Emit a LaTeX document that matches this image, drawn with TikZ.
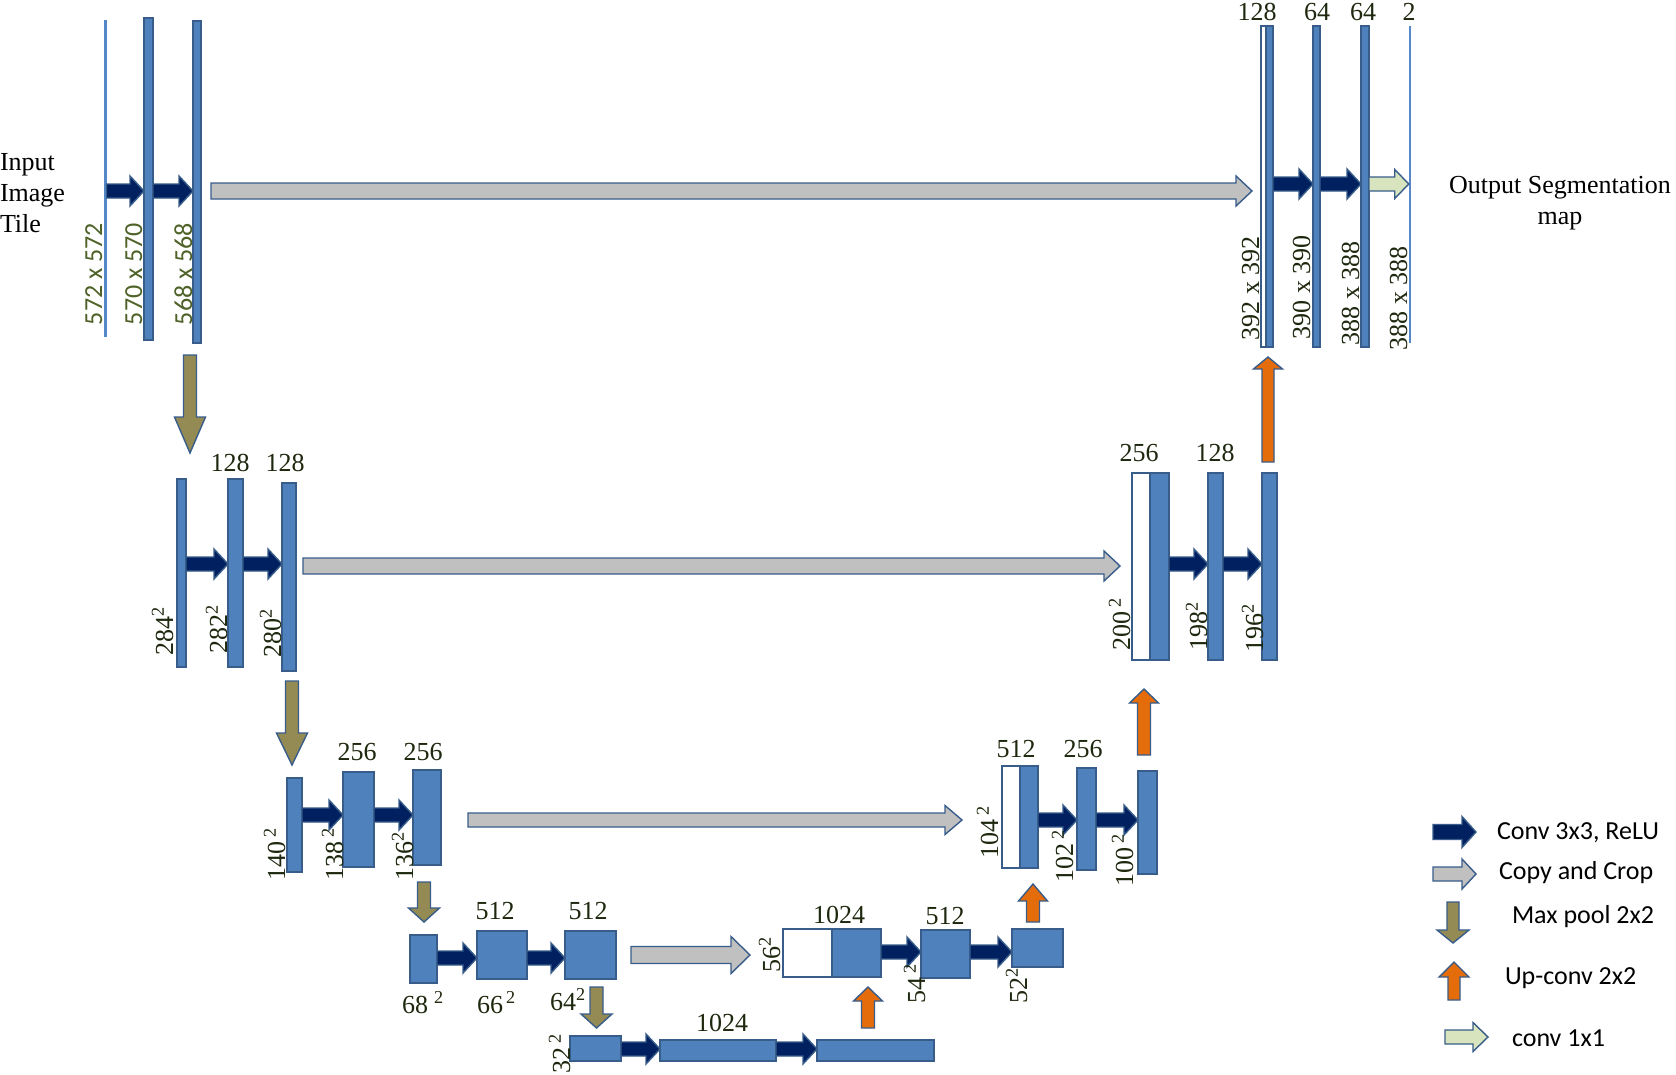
\documentclass[tikz,border=0pt]{standalone}
\usepackage{fontspec}
\setmainfont{Liberation Serif}
\newfontfamily\calfont{Carlito}
\usetikzlibrary{positioning,calc}

\definecolor{boxblue}{RGB}{79,129,189}
\definecolor{edgeblue}{RGB}{56,93,138}
\definecolor{hairblue}{RGB}{84,136,200}
\definecolor{convnavy}{RGB}{0,32,96}
\definecolor{copygray}{RGB}{192,192,192}
\definecolor{poololive}{RGB}{148,138,84}
\definecolor{uporange}{RGB}{228,108,10}
\definecolor{litegreen}{RGB}{215,228,189}
\definecolor{labelgreen}{RGB}{79,98,40}
\definecolor{labeldark}{RGB}{30,40,14}

\tikzset{
  arrshaft/.store in=\shw, arrhead/.store in=\hdw, arrlen/.store in=\hdl,
  arrshaft=7, arrhead=15, arrlen=14,
  fat/.style={draw=edgeblue, line width=1.4pt, line join=miter,
    to path={let \p1=(\tikztostart), \p2=(\tikztotarget),
      \n1={veclen(\x2-\x1,\y2-\y1)}, \n2={(\x2-\x1)/\n1}, \n3={(\y2-\y1)/\n1} in
      ({\x1-\n3*\shw},{\y1+\n2*\shw})
      -- ({\x2-\n2*\hdl-\n3*\shw},{\y2-\n3*\hdl+\n2*\shw})
      -- ({\x2-\n2*\hdl-\n3*\hdw},{\y2-\n3*\hdl+\n2*\hdw})
      -- (\p2)
      -- ({\x2-\n2*\hdl+\n3*\hdw},{\y2-\n3*\hdl-\n2*\hdw})
      -- ({\x2-\n2*\hdl+\n3*\shw},{\y2-\n3*\hdl-\n2*\shw})
      -- ({\x1+\n3*\shw},{\y1-\n2*\shw}) -- cycle}},
  conv/.style={fat, fill=convnavy},
  copycrop/.style={fat, fill=copygray, arrshaft=8, arrhead=15, arrlen=16},
  pool/.style={fat, fill=poololive, arrshaft=6.5, arrhead=15.5},
  upconv/.style={fat, fill=uporange, arrshaft=6.5, arrhead=14.5},
  onebyone/.style={fat, fill=litegreen, arrhead=14.5},
  blk/.style={rectangle, draw=edgeblue, fill=boxblue, line width=1.2pt},
  blkw/.style={blk, fill=white},
  hairblk/.style={rectangle, fill=hairblue},
  txt/.style={font=\fontsize{26}{31}\selectfont},
  chan/.style={txt, text=labeldark},
  dimlab/.style={txt, text=labeldark, rotate=90, anchor=base west},
  dimgreen/.style={font=\calfont\fontsize{26}{31}\selectfont, text=labelgreen, rotate=90, anchor=base west},
  legtext/.style={font=\calfont\fontsize{26}{31}\selectfont, anchor=west},
}

\begin{document}
\begin{tikzpicture}[x=1pt, y=-1pt, every node/.style={inner sep=0pt, outer sep=0pt}]
\useasboundingbox[fill=white] (0,0) rectangle (1676,1074);

% row levels for the horizontal arrows
\coordinate (r1) at (0,191);
\coordinate (r1d) at (0,184);
\coordinate (r2) at (0,564);
\coordinate (r2c) at (0,566);
\coordinate (r3) at (0,815);
\coordinate (r3d) at (0,820);
\coordinate (r4) at (0,958);
\coordinate (r4d) at (0,952);
\coordinate (r4c) at (0,955);
\coordinate (r5) at (0,1049);

% contracting path
\node[hairblk, minimum width=3, minimum height=317] (e11) at (105,178.5) {};
\node[blk, minimum width=9, minimum height=322] (e12) at (148.5,179) {};
\node[blk, minimum width=8, minimum height=322] (e13) at (197,182) {};

\node[blk, minimum width=9, minimum height=188] (e21) at (181.5,573) {};
\node[blk, minimum width=15, minimum height=188] (e22) at (235.5,573) {};
\node[blk, minimum width=14, minimum height=188] (e23) at (289,577) {};

\node[blk, minimum width=15, minimum height=94] (e31) at (294.5,825) {};
\node[blk, minimum width=31, minimum height=95] (e32) at (358.5,819.5) {};
\node[blk, minimum width=28, minimum height=95] (e33) at (427,817.5) {};

\node[blk, minimum width=27, minimum height=48] (e41) at (423.5,959) {};
\node[blk, minimum width=50, minimum height=48] (e42) at (502,955) {};
\node[blk, minimum width=51, minimum height=48] (e43) at (590.5,955) {};

% bottom
\node[blk, minimum width=51, minimum height=25] (b1) at (595.5,1048.5) {};
\node[blk, minimum width=116, minimum height=21] (b2) at (718,1050.5) {};
\node[blk, minimum width=117, minimum height=21] (b3) at (875.5,1050.5) {};

% expanding path
\node[blkw, minimum width=49, minimum height=48] (d41w) at (807.5,953) {};
\node[blk, minimum width=49, minimum height=48, right=0pt of d41w] (d41) {};
\node[blk, minimum width=49, minimum height=48] (d42) at (945.5,954) {};
\node[blk, minimum width=51, minimum height=38] (d43) at (1037.5,948) {};

\node[blkw, minimum width=18, minimum height=102] (d31w) at (1011,817) {};
\node[blk, minimum width=18, minimum height=102, right=0pt of d31w] (d31) {};
\node[blk, minimum width=19, minimum height=102] (d32) at (1086.5,819) {};
\node[blk, minimum width=19, minimum height=103] (d33) at (1147.5,822.5) {};

\node[blkw, minimum width=18, minimum height=187] (d21w) at (1141,566.5) {};
\node[blk, minimum width=19, minimum height=187, right=0pt of d21w] (d21) {};
\node[blk, minimum width=15, minimum height=187] (d22) at (1215.5,566.5) {};
\node[blk, minimum width=15, minimum height=187] (d23) at (1269.5,566.5) {};

\node[blkw, minimum width=5, minimum height=321] (d11w) at (1263.5,186.5) {};
\node[blk, minimum width=7, minimum height=321, right=0pt of d11w] (d11) {};
\node[blk, minimum width=7, minimum height=321] (d12) at (1316.5,186.5) {};
\node[blk, minimum width=8, minimum height=321] (d13) at (1365,186.5) {};
\node[hairblk, minimum width=2.5, minimum height=317] (d14) at (1410,184.5) {};

% conv 3x3
\draw[conv] (e11.east |- r1) to (e12.west |- r1);
\draw[conv] (e12.east |- r1) to (e13.west |- r1);
\draw[conv] (e21.east |- r2) to (e22.west |- r2);
\draw[conv] (e22.east |- r2) to (e23.west |- r2);
\draw[conv] (e31.east |- r3) to (e32.west |- r3);
\draw[conv] (e32.east |- r3) to (e33.west |- r3);
\draw[conv] (e41.east |- r4) to (e42.west |- r4);
\draw[conv] (e42.east |- r4) to (e43.west |- r4);
\draw[conv] (b1.east |- r5) to (b2.west |- r5);
\draw[conv] (b2.east |- r5) to (b3.west |- r5);
\draw[conv] (d41.east |- r4d) to (d42.west |- r4d);
\draw[conv] (d42.east |- r4d) to (d43.west |- r4d);
\draw[conv] (d31.east |- r3d) to (d32.west |- r3d);
\draw[conv] (d32.east |- r3d) to (d33.west |- r3d);
\draw[conv] (d21.east |- r2) to (d22.west |- r2);
\draw[conv] (d22.east |- r2) to (d23.west |- r2);
\draw[conv] (d11.east |- r1d) to (d12.west |- r1d);
\draw[conv] (d12.east |- r1d) to (d13.west |- r1d);
\draw[onebyone] (d13.east |- r1d) to (d14.west |- r1d);

% copy and crop
\draw[copycrop] ($(e13.east |- r1)+(10,0)$) to ($(d11w.west |- r1)+(-9,0)$);
\draw[copycrop] ($(e23.east |- r2c)+(7,0)$) to ($(d21w.west |- r2c)+(-12,0)$);
\draw[copycrop, arrshaft=7, arrhead=14.5, arrlen=17] ($(e33.east |- r3d)+(27,0)$) to ($(d31w.west |- r3d)+(-40,0)$);
\draw[copycrop, arrshaft=8.5, arrhead=18.5, arrlen=19] ($(e43.east |- r4c)+(15,0)$) to ($(d41w.west |- r4c)+(-33,0)$);

% max pool
\draw[pool, arrlen=36] ($(e13.south)+(-7,12)$) to ($(e21.north)+(8.5,-26)$);
\draw[pool, arrlen=32] ($(e23.south)+(3,10)$) to ($(e31.north)+(-2.5,-13)$);
\draw[pool] ($(e33.south)+(-3,17)$) to ($(e41.north)+(0.5,-13)$);
\draw[pool] ($(e43.south)+(6,8)$) to ($(b1.north)+(1,-8)$);

% up-conv
\draw[upconv] ($(b3.north)+(-7.5,-12)$) to ($(d41.south)+(11.5,10)$);
\draw[upconv, arrlen=17] ($(d43.north)+(-4.5,-7)$) to ($(d31.south)+(4,16)$);
\draw[upconv] ($(d33.north)+(-3.5,-16)$) to ($(d21.south)+(-15.5,29)$);
\draw[upconv, arrshaft=6, arrlen=12] ($(d23.north)+(-1.5,-11)$) to ($(d11.south)+(-1.5,10)$);

% channel counts
\node[chan] (c1) at (1257,12) {128};
\node[chan] (c2) at (1317,12) {64};
\node[chan] (c3) at (1363,12) {64};
\node[chan] (c4) at (1409,12) {2};
\node[chan] (c5) at (230,463) {128};
\node[chan] (c6) at (285,463) {128};
\node[chan] (c7) at (1139,453) {256};
\node[chan] (c8) at (1215,453) {128};
\node[chan] (c9) at (357,752) {256};
\node[chan] (c10) at (423,752) {256};
\node[chan] (c11) at (1016,749) {512};
\node[chan] (c12) at (1083,749) {256};
\node[chan] (c13) at (495,911) {512};
\node[chan] (c14) at (588,911) {512};
\node[chan] (c15) at (839,915) {1024};
\node[chan] (c16) at (945,916) {512};
\node[chan] (c17) at (722,1023) {1024};

% tile sizes
\node[dimgreen] (s1) at (102,325) {572 x 572};
\node[dimgreen] (s2) at (142,325) {570 x 570};
\node[dimgreen] (s3) at (192,325) {568 x 568};
\node[dimlab] (s4) at (1259,340) {392 x 392};
\node[dimlab] (s5) at (1310,339) {390 x 390};
\node[dimlab] (s6) at (1359,345) {388 x 388};
\node[dimlab] (s7) at (1407,350) {388 x 388};
\node[dimlab] (s8) at (173,655) {284\textsuperscript{2}};
\node[dimlab] (s9) at (227,653) {282\textsuperscript{2}};
\node[dimlab] (s10) at (281,657) {280\textsuperscript{2}};
\node[dimlab] (s11) at (1130,650) {200\textsuperscript{\,2}};
\node[dimlab] (s12) at (1207,650) {198\textsuperscript{2}};
\node[dimlab] (s13) at (1263,652) {196\textsuperscript{2}};
\node[dimlab] (s14) at (285,880) {140\textsuperscript{\,2}};
\node[dimlab] (s15) at (343,880) {138\textsuperscript{\,2}};
\node[dimlab] (s16) at (413,880) {136\textsuperscript{2}};
\node[dimlab] (s17) at (998,858) {104\textsuperscript{\,2}};
\node[dimlab] (s18) at (1073,882) {102\textsuperscript{\,2}};
\node[dimlab] (s19) at (1133,886) {100\textsuperscript{\,2}};
\node[dimlab] (s20) at (780,972) {56\textsuperscript{2}};
\node[dimlab] (s21) at (925,1003) {54\textsuperscript{\,2}};
\node[dimlab] (s22) at (1027,1003) {52\textsuperscript{2}};
\node[dimlab] (s23) at (570,1073) {32\textsuperscript{\,2}};
\node[chan, anchor=base west] (s24) at (402,1013) {68\textsuperscript{\,\,2}};
\node[chan, anchor=base west] (s25) at (477,1013) {66\textsuperscript{\,2}};
\node[chan, anchor=base west] (s26) at (550,1010) {64\textsuperscript{2}};

% input / output
\node[txt, align=left, anchor=west] (inp) at (0,193) {Input\\Image\\Tile};
\node[txt, align=center] (outp) at (1560,203) {Output Segmentation\\map};

% legend
\coordinate (l1a) at (1433,832); \coordinate (l1b) at (1476,832);
\coordinate (l2a) at (1433,874); \coordinate (l2b) at (1476,874);
\coordinate (l3a) at (1453,902); \coordinate (l3b) at (1453,943);
\coordinate (l4a) at (1454,1000); \coordinate (l4b) at (1454,962);
\coordinate (l5a) at (1445,1037); \coordinate (l5b) at (1488,1037);
\draw[conv, arrshaft=7.5, arrhead=15.5] (l1a) to (l1b);
\draw[copycrop, arrshaft=7, arrlen=14] (l2a) to (l2b);
\draw[pool, arrshaft=6, arrhead=16, arrlen=13] (l3a) to (l3b);
\draw[upconv, arrshaft=6, arrhead=15, arrlen=15] (l4a) to (l4b);
\draw[onebyone, arrlen=15] (l5a) to (l5b);
\node[legtext] (t1) at (1497,833) {Conv 3x3, ReLU};
\node[legtext] (t2) at (1499,873) {Copy and Crop};
\node[legtext] (t3) at (1512,917) {Max pool 2x2};
\node[legtext] (t4) at (1505,978) {Up-conv 2x2};
\node[legtext] (t5) at (1512,1038) {conv 1x1};
\end{tikzpicture}
\end{document}
